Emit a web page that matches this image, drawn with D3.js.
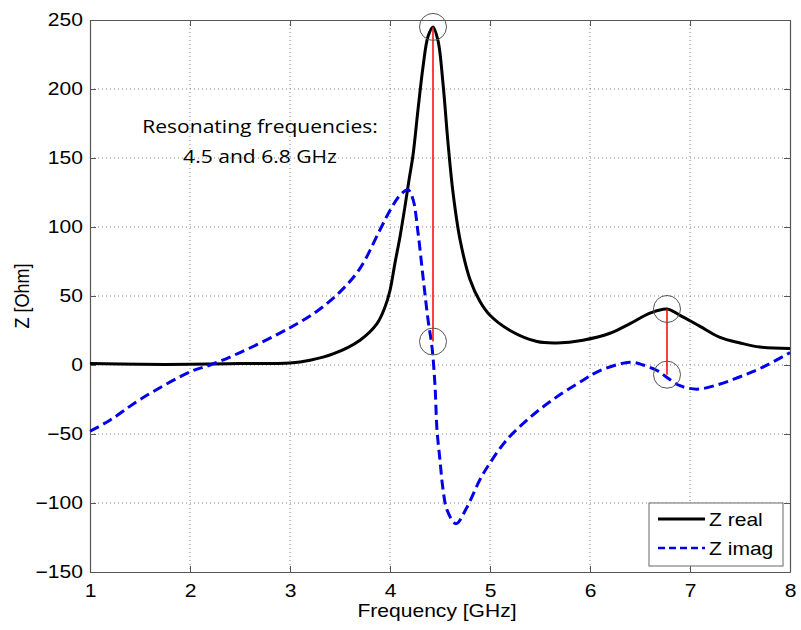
<!DOCTYPE html>
<html>
<head>
<meta charset="utf-8">
<script src="https://cdn.jsdelivr.net/npm/d3@7"></script>
<style>
  body { margin: 0; background: #fff; }
  svg { display: block; }
</style>
</head>
<body>
<div class="canvas"></div>
<script>
// frequency samples [GHz] and impedance values [Ohm]
const realFreq = [1, 1.5, 2, 2.5, 3, 3.2, 3.43, 3.7, 3.87, 3.95, 4.0, 4.05, 4.1, 4.15, 4.19, 4.23, 4.28, 4.33, 4.38, 4.43,
                  4.48, 4.53, 4.58, 4.63, 4.70, 4.80, 4.90, 5.0, 5.2, 5.47, 5.67, 5.93, 6.2, 6.4, 6.6, 6.77, 6.9, 7.1, 7.3, 7.5, 7.7, 8]
const realZ    = [1, 0.5, 0.5, 1, 1.5, 3.5, 8, 18, 30, 42, 54, 74, 93, 115, 134, 152, 185, 216, 238, 245,
                  235, 204, 161, 125, 91, 62, 46, 36, 25, 17, 16, 18, 23, 30, 37.6, 40.6, 36, 28, 20, 16, 13, 12]

const imagFreq = [1, 1.2, 1.5, 2, 2.2, 2.5, 3, 3.27, 3.5, 3.7, 3.9, 4.0, 4.1, 4.18, 4.23, 4.28, 4.33, 4.38, 4.42,
                  4.45, 4.47, 4.50, 4.53, 4.57, 4.66, 4.77, 4.90, 5.0, 5.17, 5.4, 5.63, 5.93, 6.1, 6.4, 6.53, 6.67,
                  6.77, 6.9, 7.07, 7.27, 7.5, 7.73, 8]
const imagZ    = [-48, -40, -25, -5, 0, 9, 27, 39, 53, 70, 98, 112, 123, 127, 120, 96, 64, 33, 13,
                  -15, -47, -69, -90, -105, -115, -103, -83, -71, -54, -38, -25, -11, -4, 2, 0, -4,
                  -9, -15, -17.5, -14.5, -8.5, -1.5, 9]

// resonance markers
const resFreq = [4.43, 6.77]
const resReal = [245, 40.6]
const resImag = [17, -7]

const xTicks = [1, 2, 3, 4, 5, 6, 7, 8]
const yTicks = [-150, -100, -50, 0, 50, 100, 150, 200, 250]

const seriesNames = ["Z real", "Z imag"]

const W = 801, H = 630
const margin = {left: 90, top: 20, right: 11, bottom: 58}
const iw = W - margin.left - margin.right
const ih = H - margin.top - margin.bottom
const stretch = 1.17   // the original picture is a bit wider than tall

const svg = d3.select(".canvas").append("svg")
    .attr("width", W)
    .attr("height", H)

const x = d3.scaleLinear().domain([1, 8]).range([0, iw])
const y = d3.scaleLinear().domain([-150, 250]).range([ih, 0])

const g = svg.append("g").attr("transform", `translate(${margin.left},${margin.top})`)

// grid
g.append("g").selectAll("line").data(xTicks.slice(1, -1))
    .enter().append("line")
    .attr("x1", d => x(d)).attr("x2", d => x(d))
    .attr("y1", 0).attr("y2", ih)
    .attr("stroke", "#888").attr("stroke-width", 1)
    .attr("stroke-dasharray", "1,3")
g.append("g").selectAll("line").data(yTicks.slice(1, -1))
    .enter().append("line")
    .attr("x1", 0).attr("x2", iw)
    .attr("y1", d => y(d)).attr("y2", d => y(d))
    .attr("stroke", "#888").attr("stroke-width", 1)
    .attr("stroke-dasharray", "1,3")

// axes (ticks inside, mirrored on top/right)
const tickFont = "'Liberation Sans', Arial, sans-serif"
g.append("g").attr("transform", `translate(0,${ih})`)
    .call(d3.axisBottom(x).tickValues(xTicks).tickFormat(d3.format("d")).tickSizeInner(-6).tickSizeOuter(0).tickPadding(12))
g.append("g")
    .call(d3.axisLeft(y).tickValues(yTicks).tickFormat(d3.format("d")).tickSizeInner(-6).tickSizeOuter(0).tickPadding(6))
g.append("g")
    .call(d3.axisTop(x).tickValues(xTicks).tickFormat("").tickSizeInner(-6).tickSizeOuter(0))
g.append("g").attr("transform", `translate(${iw},0)`)
    .call(d3.axisRight(y).tickValues(yTicks).tickFormat("").tickSizeInner(-6).tickSizeOuter(0))

svg.selectAll(".domain").attr("stroke", "#555").attr("stroke-width", 1.2)
svg.selectAll(".tick line").attr("stroke", "#555")
svg.selectAll(".tick text")
    .attr("font-family", tickFont).attr("font-size", 18).attr("fill", "#000")
    .attr("transform", `scale(${stretch},1)`)

// axis labels
svg.append("text")
    .attr("transform", `translate(${margin.left + iw / 2 - 3},617) scale(${stretch},1)`)
    .attr("text-anchor", "middle")
    .attr("font-family", tickFont).attr("font-size", 18)
    .text("Frequency [GHz]")
svg.append("text")
    .attr("transform", `translate(29,${margin.top + ih / 2}) scale(${stretch},1) rotate(-90)`)
    .attr("text-anchor", "middle")
    .attr("font-family", tickFont).attr("font-size", 18)
    .text("Z [Ohm]")

// curves
const line = d3.line().x(d => x(d[0])).y(d => y(d[1])).curve(d3.curveCatmullRom.alpha(0.5))

g.append("path")
    .datum(realFreq.map((f, i) => [f, realZ[i]]))
    .attr("d", line)
    .attr("fill", "none").attr("stroke", "#000").attr("stroke-width", 3)

g.append("path")
    .datum(imagFreq.map((f, i) => [f, imagZ[i]]))
    .attr("d", line)
    .attr("fill", "none").attr("stroke", "#0000ee").attr("stroke-width", 3)
    .attr("stroke-dasharray", "10,5")

// resonance markers
g.selectAll(".res").data(resFreq)
    .enter().append("line")
    .attr("x1", d => x(d)).attr("x2", d => x(d))
    .attr("y1", (d, i) => y(resReal[i])).attr("y2", (d, i) => y(resImag[i]))
    .attr("stroke", "#ff0000").attr("stroke-width", 1.5)

const circlePts = resFreq.map((f, i) => [f, resReal[i]]).concat(resFreq.map((f, i) => [f, resImag[i]]))
g.selectAll(".mark").data(circlePts)
    .enter().append("circle")
    .attr("cx", d => x(d[0])).attr("cy", d => y(d[1]))
    .attr("r", 13.5)
    .attr("fill", "none").attr("stroke", "#555").attr("stroke-width", 1)

// annotation
const note = g.append("text")
    .attr("transform", `translate(170,0) scale(${stretch},1)`)
    .attr("font-family", "'Open Sans', sans-serif").attr("font-size", 18)
    .attr("text-anchor", "middle")
note.append("tspan").attr("x", 0).attr("y", 113).text("Resonating frequencies:")
note.append("tspan").attr("x", 0).attr("y", 143).text("4.5 and 6.8 GHz")

// legend
const lg = g.append("g").attr("transform", `translate(${iw - 141},${ih - 69})`)
lg.append("rect").attr("width", 134).attr("height", 63)
    .attr("fill", "#fff").attr("stroke", "#666").attr("stroke-width", 1)
const legStyles = [{stroke: "#000", dash: null}, {stroke: "#0000ee", dash: "7,4"}]
seriesNames.forEach((name, i) => {
    const ly = 16 + i * 29
    lg.append("line").attr("x1", 9).attr("x2", 56).attr("y1", ly).attr("y2", ly)
        .attr("stroke", legStyles[i].stroke).attr("stroke-width", i == 0 ? 3 : 2.5)
        .attr("stroke-dasharray", legStyles[i].dash)
    lg.append("text").attr("transform", `translate(60,${ly + 7}) scale(${stretch},1)`)
        .attr("font-family", tickFont).attr("font-size", 18)
        .text(name)
})
</script>
</body>
</html>
